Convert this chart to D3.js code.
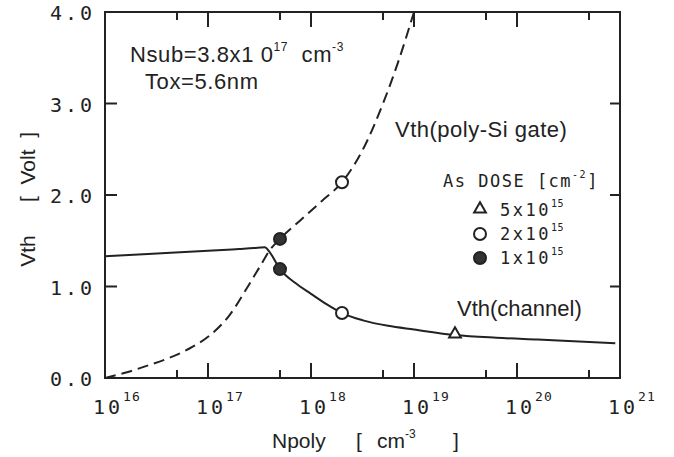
<!DOCTYPE html>
<html>
<head>
<meta charset="utf-8">
<script src="https://cdn.jsdelivr.net/npm/d3@7"></script>
<style>
  body { margin: 0; background: #fff; }
  svg { display: block; }
  text { fill: #222; }
  .mono { font-family: "DejaVu Sans Mono", monospace; }
  .sans { font-family: "Liberation Sans", Arial, sans-serif; }
</style>
</head>
<body>
<svg id="chart" width="674" height="457"></svg>
<script>
// Vth(channel), solid line
var channelN = [1e16, 3.2e16, 1e17, 2e17, 2.8e17, 3.2e17, 3.55e17, 4e17, 5e17, 7e17, 1e18, 1.4e18, 2e18, 3.2e18, 5.6e18, 1e19, 2.5e19, 6.3e19, 1.6e20, 4e20, 9e20];
var channelV = [1.33, 1.36, 1.39, 1.41, 1.42, 1.425, 1.43, 1.37, 1.19, 1.04, 0.92, 0.81, 0.71, 0.63, 0.57, 0.53, 0.47, 0.44, 0.42, 0.40, 0.38];

// Vth(poly-Si gate), dashed line
var gateN = [1e16, 1.6e16, 2.5e16, 4e16, 6.3e16, 1e17, 1.6e17, 2.5e17, 3.2e17, 4e17, 5e17, 8e17, 1.26e18, 2e18, 3.2e18, 5e18, 7e18, 1e19];
var gateV = [0.0, 0.06, 0.13, 0.21, 0.31, 0.45, 0.68, 1.02, 1.22, 1.40, 1.52, 1.73, 1.93, 2.14, 2.50, 3.00, 3.45, 4.0];

// measured points
var markN = [2.5e19, 2e18, 2e18, 5e17, 5e17];
var markV = [0.47, 2.14, 0.71, 1.52, 1.19];
var markType = ['tri', 'open', 'open', 'filled', 'filled'];

// legend
var doseMant = ['5x10', '2x10', '1x10'];
var doseExp = ['15', '15', '15'];
var doseType = ['tri', 'open', 'filled'];

// ticks
var xMajor = [1e16, 1e17, 1e18, 1e19, 1e20, 1e21];
var xMajorExp = ['16', '17', '18', '19', '20', '21'];
var xMinor = [5e16, 5e17, 5e18, 5e19, 5e20];
var yTicks = [0, 1, 2, 3, 4];

var svg = d3.select('#chart');

var x = d3.scaleLog().domain([1e16, 1e21]).range([105, 620]);
var y = d3.scaleLinear().domain([0, 4]).range([378, 12]);

var ink = '#222';

// frame
svg.append('rect')
  .attr('x', 105).attr('y', 12)
  .attr('width', 515).attr('height', 366)
  .attr('fill', 'none').attr('stroke', ink).attr('stroke-width', 2);

// tick marks, all pointing inward
var tickG = svg.append('g').attr('stroke', ink).attr('stroke-width', 2).attr('fill', 'none');
xMajor.slice(1, 5).forEach(function (d) {
  tickG.append('path').attr('d', 'M' + x(d) + ',378V363');
  tickG.append('path').attr('d', 'M' + x(d) + ',12V27');
});
xMinor.forEach(function (d) {
  tickG.append('path').attr('d', 'M' + x(d) + ',378V370');
  tickG.append('path').attr('d', 'M' + x(d) + ',12V20');
});
[1, 2, 3].forEach(function (d) {
  tickG.append('path').attr('d', 'M105,' + y(d) + 'H117');
  tickG.append('path').attr('d', 'M620,' + y(d) + 'H610');
});

// y tick labels
svg.selectAll('.ylab')
  .data(yTicks)
  .enter()
  .append('text')
  .attr('class', 'mono')
  .attr('x', 95)
  .attr('y', (d) => y(d) + 8)
  .attr('text-anchor', 'end')
  .style('font-size', '20px')
  .style('letter-spacing', '3px')
  .text((d) => d.toFixed(1));

// x tick labels 10^n
var xl = svg.selectAll('.xlab')
  .data(xMajor)
  .enter()
  .append('text')
  .attr('class', 'mono')
  .attr('x', (d) => x(d) - 12)
  .attr('y', 414)
  .style('font-size', '20px')
  .style('letter-spacing', '3px');
xl.append('tspan').text('10');
xl.append('tspan')
  .attr('dy', -13)
  .style('font-size', '13px')
  .style('letter-spacing', '1px')
  .text((d, i) => xMajorExp[i]);

// axis titles
var xt = svg.append('text').attr('class', 'sans').attr('y', 448).style('font-size', '21px');
xt.append('tspan').attr('x', 272).text('Npoly');
xt.append('tspan').attr('x', 356).text('[');
xt.append('tspan').attr('x', 377).text('cm');
xt.append('tspan').attr('dy', -10).style('font-size', '12px').text('-3');
xt.append('tspan').attr('x', 453).attr('dy', 10).text(']');

svg.append('text').attr('class', 'sans')
  .attr('transform', 'translate(35,251) rotate(-90)')
  .attr('text-anchor', 'middle')
  .style('font-size', '21px')
  .text('Vth');
svg.append('text').attr('class', 'sans')
  .attr('transform', 'translate(35,167) rotate(-90)')
  .attr('text-anchor', 'middle')
  .style('font-size', '21px')
  .style('white-space', 'pre')
  .text('[  Volt  ]');

// curves
var line = d3.line()
  .x((d) => x(d[0]))
  .y((d) => y(d[1]))
  .curve(d3.curveMonotoneX);

svg.append('path')
  .datum(channelN.map((n, i) => [n, channelV[i]]))
  .attr('d', line)
  .attr('fill', 'none')
  .attr('stroke', ink)
  .attr('stroke-width', 2);

svg.append('path')
  .datum(gateN.map((n, i) => [n, gateV[i]]))
  .attr('d', line)
  .attr('fill', 'none')
  .attr('stroke', ink)
  .attr('stroke-width', 2)
  .attr('stroke-dasharray', '11,6');

// markers
function drawMark(g, type, cx, cy) {
  if (type === 'tri') {
    g.append('path')
      .attr('d', d3.symbol().type(d3.symbolTriangle).size(60)())
      .attr('transform', 'translate(' + cx + ',' + (cy - 1) + ')')
      .attr('fill', '#fff').attr('stroke', ink).attr('stroke-width', 2);
  } else {
    g.append('circle')
      .attr('cx', cx).attr('cy', cy).attr('r', 6)
      .attr('fill', type === 'filled' ? '#333' : '#fff')
      .attr('stroke', ink).attr('stroke-width', 2);
  }
}
var gm = svg.append('g');
markN.forEach((n, i) => drawMark(gm, markType[i], x(n), y(markV[i])));

// annotations
var ns = svg.append('text').attr('class', 'sans').attr('x', 130).attr('y', 62)
  .style('font-size', '22px').style('letter-spacing', '0.6px').style('white-space', 'pre');
ns.append('tspan').text('Nsub=3.8x1 0');
ns.append('tspan').attr('dy', -11).style('font-size', '12px').text('17');
ns.append('tspan').attr('dy', 11).text('  cm');
ns.append('tspan').attr('dy', -11).style('font-size', '12px').text('-3');

svg.append('text').attr('class', 'sans').attr('x', 145).attr('y', 89)
  .style('font-size', '22px').style('letter-spacing', '0.6px').text('Tox=5.6nm');

svg.append('text').attr('class', 'sans').attr('x', 395).attr('y', 137)
  .style('font-size', '22px').style('letter-spacing', '0.5px').text('Vth(poly-Si gate)');

svg.append('text').attr('class', 'sans').attr('x', 457).attr('y', 316)
  .style('font-size', '22px').text('Vth(channel)');

// legend
var lt = svg.append('text').attr('class', 'mono').attr('x', 443).attr('y', 187)
  .style('font-size', '17px').style('letter-spacing', '1.5px').style('white-space', 'pre');
lt.append('tspan').text('As DOSE [cm');
lt.append('tspan').attr('dy', -9).style('font-size', '10px').text('-2');
lt.append('tspan').attr('dy', 9).text(']');

var lg = svg.append('g');
doseMant.forEach(function (m, i) {
  var cy = 210 + i * 24;
  drawMark(lg, doseType[i], 480, cy);
  var t = lg.append('text').attr('class', 'mono').attr('x', 500).attr('y', cy + 6)
    .style('font-size', '17px').style('letter-spacing', '2.5px');
  t.append('tspan').text(m);
  t.append('tspan').attr('dy', -9).style('font-size', '10px').style('letter-spacing', '0.5px').text(doseExp[i]);
});
</script>
</body>
</html>
